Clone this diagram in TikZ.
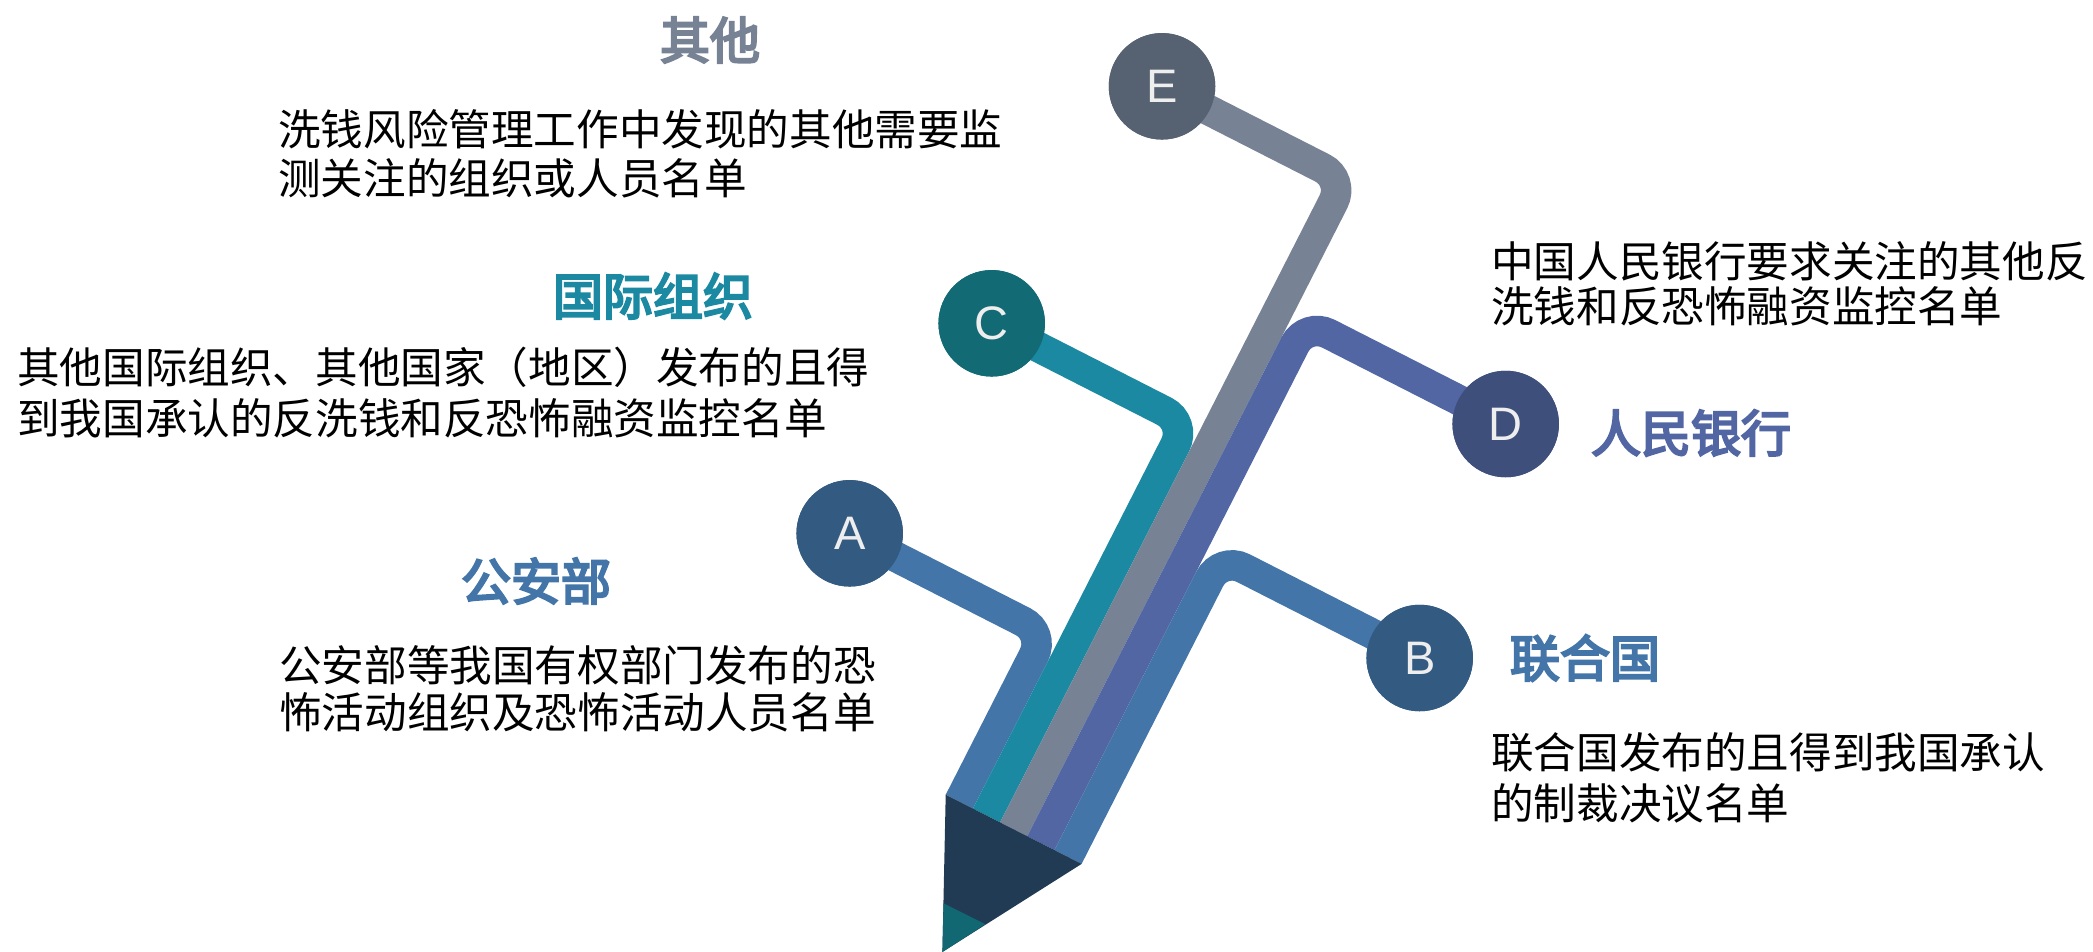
\documentclass[tikz,border=0pt]{standalone}
\usepackage{fontspec}
\newfontfamily\cjk{Noto Sans CJK SC}
\newfontfamily\cjkbold[FakeBold=4.5]{Noto Sans CJK SC}
\newfontfamily\latin{Liberation Sans}

% palette
\definecolor{stripblue}{HTML}{4375A9}
\definecolor{stripteal}{HTML}{1A89A1}
\definecolor{stripgray}{HTML}{778395}
\definecolor{stripindigo}{HTML}{5166A3}
\definecolor{conedark}{HTML}{223B54}
\definecolor{tipteal}{HTML}{116873}
\definecolor{circblue}{HTML}{335A80}
\definecolor{circteal}{HTML}{126A75}
\definecolor{circindigo}{HTML}{3E4F7B}
\definecolor{circgray}{HTML}{566271}
\definecolor{letter}{HTML}{EEEEEE}

\begin{document}
\begin{tikzpicture}[x=1pt,y=-1pt,
  strip/.style={line width=30.5pt, rounded corners=25pt},
  badge/.style={circle, minimum size=106.5pt, inner sep=0pt, text=letter,
    font=\latin\fontsize{47}{47}\selectfont},
  heading/.style={inner sep=0pt, anchor=center, font=\cjkbold\fontsize{50}{50}\selectfont},
  body/.style={inner sep=0pt, anchor=base west, align=left, text=black},
]
\useasboundingbox (0,0) rectangle (2093,951);

% base of each strip on the top edge of the cone
\coordinate (sA) at (959.29,801.62);
\coordinate (sC) at (986.46,815.47);
\coordinate (sE) at (1013.64,829.32);
\coordinate (sD) at (1040.81,843.16);
\coordinate (sB) at (1067.99,857.01);
% bend points along the pencil axis
\coordinate (kA) at (1045.23,632.95);
\coordinate (kC) at (1186.63,422.63);
\coordinate (kE) at (1344.79,179.42);
\coordinate (kD) at (1306.17,322.37);
\coordinate (kB) at (1220.99,556.74);

% badges (placed first so the strips can end at their centres)
\node[badge, fill=circblue]   (A) at (849.7,533.3) {A};
\node[badge, fill=circblue]   (B) at (1419.7,658) {B};
\node[badge, fill=circteal]   (C) at (991.7,323.3) {C};
\node[badge, fill=circindigo] (D) at (1505.7,424) {D};
\node[badge, fill=circgray]   (E) at (1162,86.3) {E};

% coloured strips of the pencil body
\draw[strip, stripblue]   (sA) -- (kA) -- (A.center);
\draw[strip, stripteal]   (sC) -- (kC) -- (C.center);
\draw[strip, stripgray]   (sE) -- (kE) -- (E.center);
\draw[strip, stripindigo] (sD) -- (kD) -- (D.center);
\draw[strip, stripblue]   (sB) -- (kB) -- (B.center);

% pencil cone and lead
\coordinate (cL) at (945.7,794.7);
\coordinate (cR) at (1081.6,863.9);
\coordinate (cT) at (942.4,952);
\coordinate (lL) at (943.5,903.3);
\coordinate (lR) at (985.2,924.2);
\fill[conedark] (cL) -- (cR) -- (cT) -- cycle;
\fill[tipteal] (lL) -- (lR) -- (cT) -- cycle;

% badges again on top of the strip ends
\node[badge, fill=circblue]   at (A.center) {A};
\node[badge, fill=circblue]   at (B.center) {B};
\node[badge, fill=circteal]   at (C.center) {C};
\node[badge, fill=circindigo] at (D.center) {D};
\node[badge, fill=circgray]   at (E.center) {E};

% headings
\node[heading, text=stripgray]   (hE) at (710,40)   {其他};
\node[heading, text=stripteal]   (hC) at (653,296)  {国际组织};
\node[heading, text=stripblue]   (hA) at (536,581)  {公安部};
\node[heading, text=stripindigo] (hD) at (1691,433) {人民银行};
\node[heading, text=stripblue]   (hB) at (1585,658) {联合国};

% descriptions (anchored on the baseline of the last line)
\node[body, font=\cjk\fontsize{42.6}{49}\selectfont] (tE) at (278,194)
  {洗钱风险管理工作中发现的其他需要监\\测关注的组织或人员名单};
\node[body, font=\cjk\fontsize{42.6}{51}\selectfont] (tC) at (17,434)
  {其他国际组织、其他国家（地区）发布的且得\\到我国承认的反洗钱和反恐怖融资监控名单};
\node[body, font=\cjk\fontsize{42.6}{47}\selectfont] (tA) at (279,728)
  {公安部等我国有权部门发布的恐\\怖活动组织及恐怖活动人员名单};
\node[body, font=\cjk\fontsize{42.6}{45}\selectfont] (tD) at (1491,322)
  {中国人民银行要求关注的其他反\\洗钱和反恐怖融资监控名单};
\node[body, font=\cjk\fontsize{42.6}{50.5}\selectfont] (tB) at (1491,819)
  {联合国发布的且得到我国承认\\的制裁决议名单};
\end{tikzpicture}
\end{document}
